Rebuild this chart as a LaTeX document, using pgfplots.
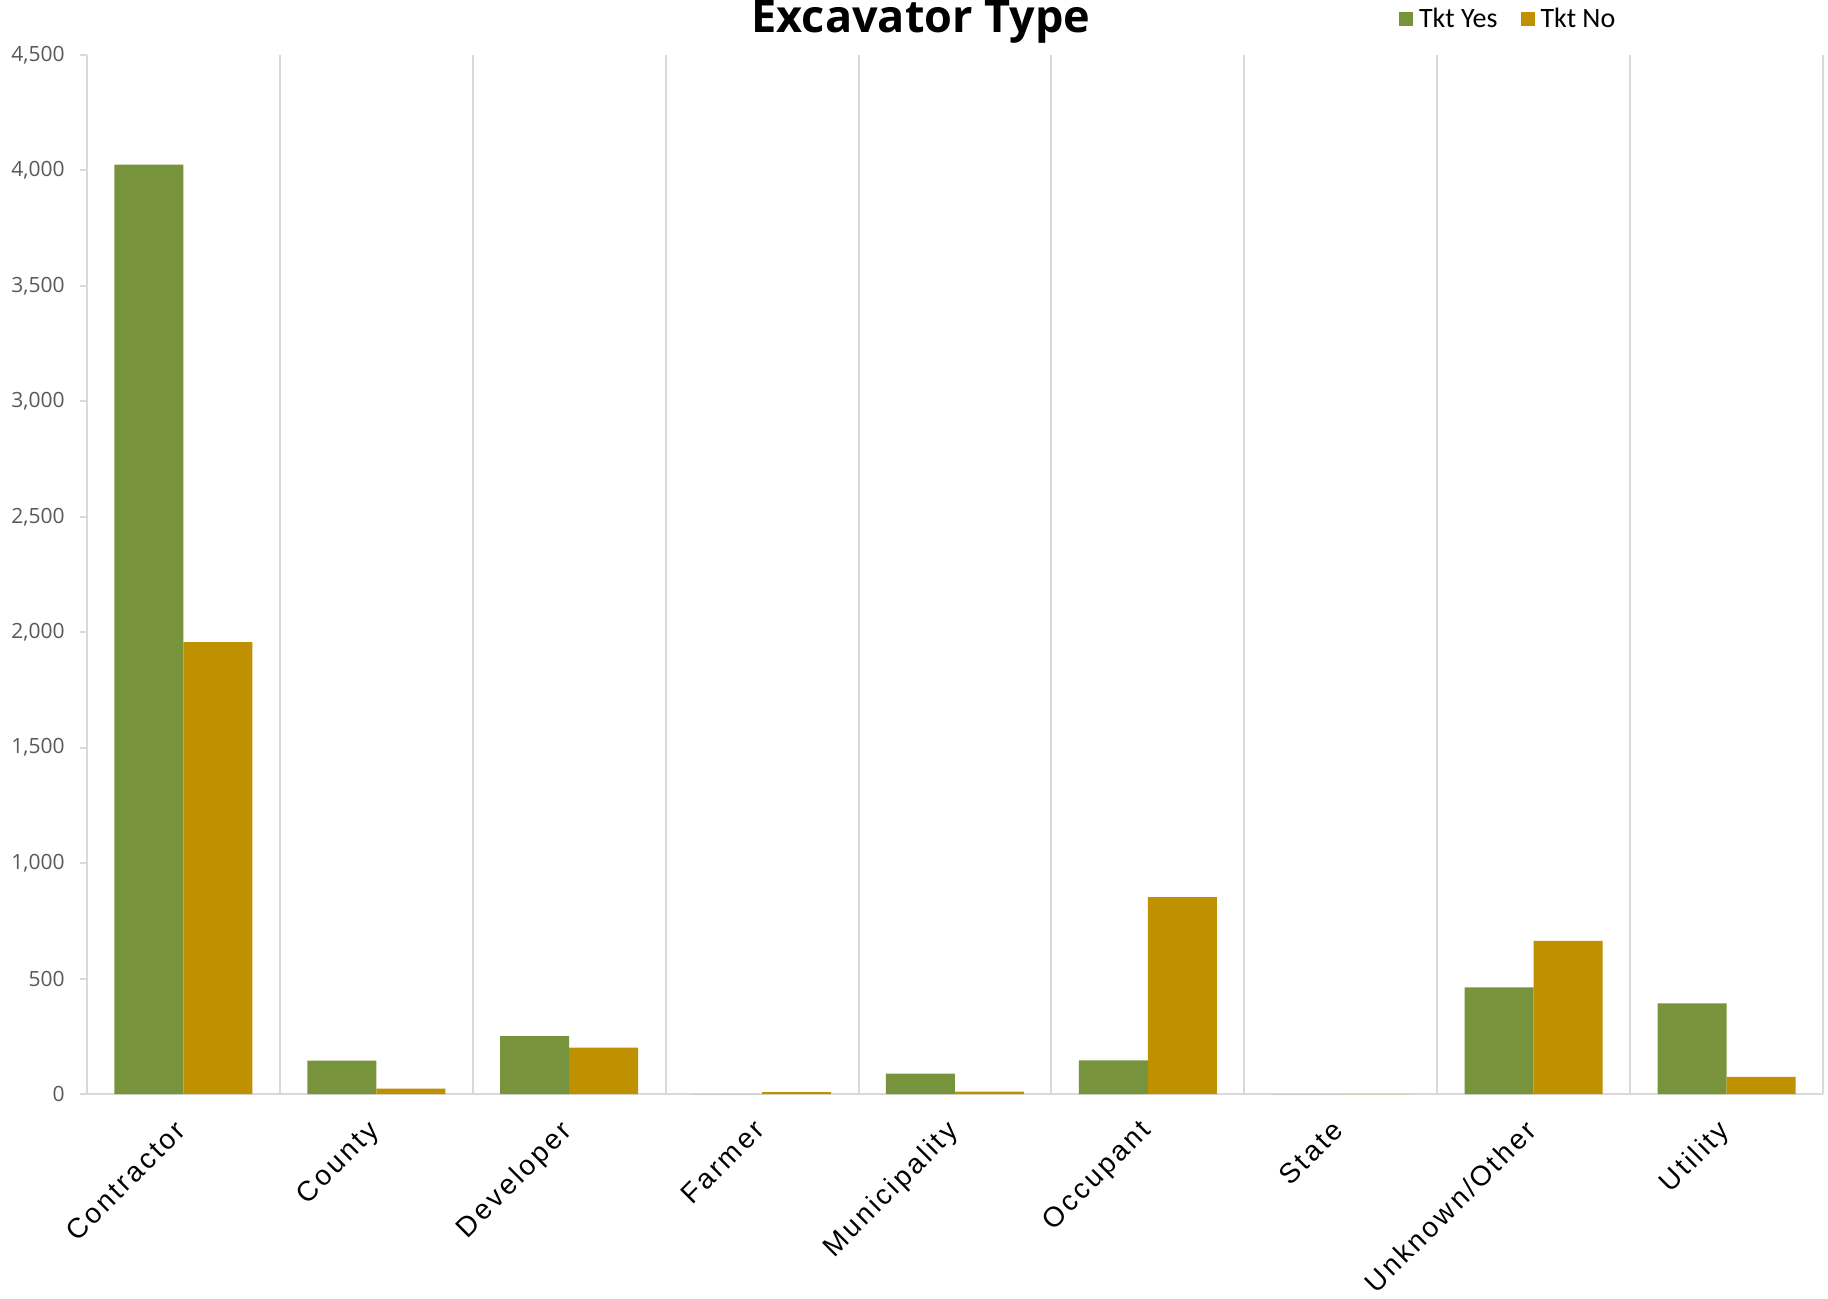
\documentclass[border=0pt]{standalone}
\usepackage{pgfplots}
\pgfplotsset{compat=1.18}
\usepackage{fontspec}
\newfontfamily\titlefont{Open Sans}
\newfontfamily\tickfont{Open Sans}
\newfontfamily\legfont{Carlito}
\newfontfamily\catfont{Liberation Sans}[LetterSpace=10]

\definecolor{tktyes}{HTML}{77933C}
\definecolor{tktno}{HTML}{BF9000}
\definecolor{gridgray}{HTML}{D9D9D9}
\definecolor{labelgray}{HTML}{595959}

\begin{document}
\begin{tikzpicture}
\useasboundingbox (0,0) rectangle (914pt,649pt);
\begin{axis}[
  scale only axis,
  width=868pt, height=519.5pt,
  at={(43.5pt,102pt)}, anchor=south west,
  ymin=0, ymax=4500,
  xmin=-0.5, xmax=8.5,
  ytick={0,500,...,4500},
  xtick={0,...,8},
  xticklabels={Contractor,County,Developer,Farmer,Municipality,Occupant,State,Unknown/Other,Utility},
  minor xtick={-0.5,0.5,...,8.5},
  xminorgrids,
  minor grid style={gridgray, line width=1pt},
  axis x line*=bottom,
  axis y line*=left,
  axis line style={gridgray, line width=1pt},
  tick align=outside,
  major tick length=3.5pt,
  minor tick length=0pt,
  x tick style={draw=none},
  y tick style={gridgray, line width=1pt},
  /pgf/number format/.cd, 1000 sep={,}, assume math mode=true,
  /pgfplots/.cd,
  yticklabel style={font=\tickfont\fontsize{10.5}{12}\selectfont, text=labelgray, anchor=east, inner sep=0pt, xshift=-7.5pt},
  xticklabel style={font=\catfont\fontsize{14}{16}\selectfont, xshift=-5pt, yshift=-8.5pt, rotate=45, anchor=north east, inner sep=0pt},
  ybar=0pt,
  bar width=34.5pt,
  legend columns=2,
  legend style={at={(0.7558,1.0347)}, anchor=west, draw=none, fill=none,
    inner sep=0pt, outer sep=0pt,
    font=\legfont\fontsize{14}{16}\selectfont,
    /tikz/every even column/.append style={column sep=8.5pt},
    nodes={inner xsep=3pt, inner ysep=1pt}},
  legend image code/.code={\fill[#1] (0pt,-3.5pt) rectangle (7pt,3.5pt);},
  clip=false,
]
% tickets requested before excavation
\addplot[fill=tktyes, draw=none] coordinates {
  (0,4025) (1,145) (2,251) (3,0) (4,88) (5,146) (6,0) (7,462) (8,392)};
% no ticket requested
\addplot[fill=tktno, draw=none] coordinates {
  (0,1957) (1,23) (2,201) (3,8) (4,10) (5,853) (6,0) (7,663) (8,74)};
\legend{Tkt Yes, Tkt No}
\end{axis}
\node[font=\titlefont\bfseries\fontsize{22.5}{26}\selectfont, anchor=base] at (460.5pt,632.7pt) {Excavator Type};
\end{tikzpicture}
\end{document}
